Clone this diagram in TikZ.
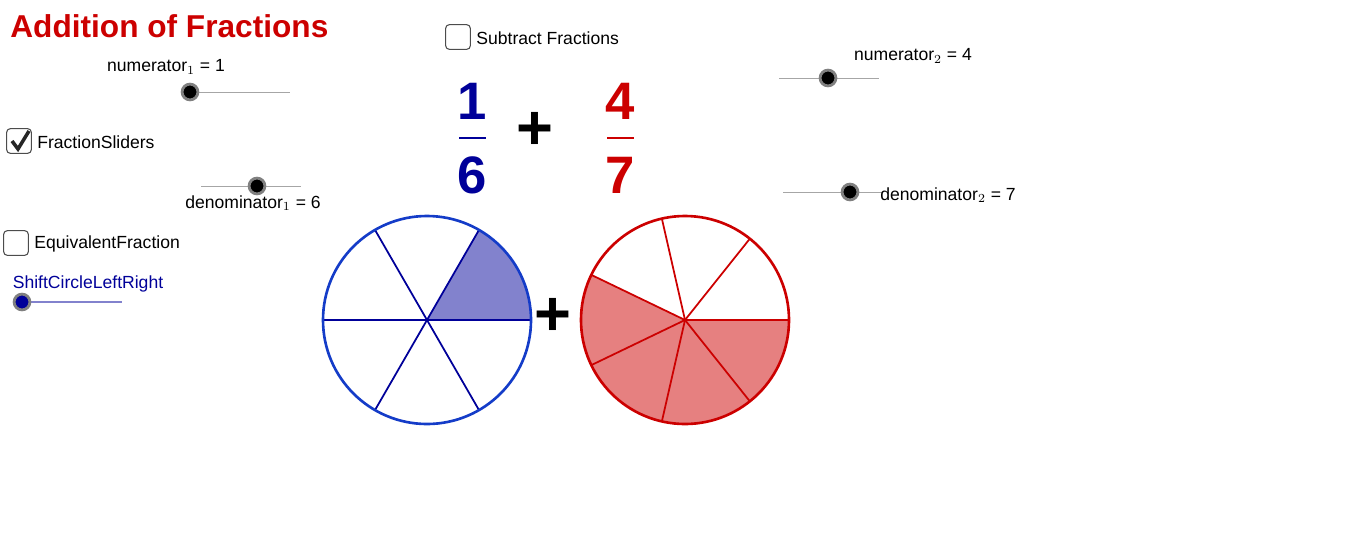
\documentclass[tikz,border=0pt]{standalone}
\usepackage{fontspec}
\setmainfont{Liberation Sans}
\definecolor{dblue}{RGB}{0,0,153}
\definecolor{cblue}{RGB}{20,60,200}
\definecolor{fblue}{RGB}{130,130,205}
\definecolor{dred}{RGB}{204,0,0}
\definecolor{fred}{RGB}{230,128,128}
\definecolor{tred}{RGB}{204,0,0}
\begin{document}
\begin{tikzpicture}[x=0.02cm,y=-0.02cm,
  lbl/.style={font=\fontsize{10}{12}\selectfont,inner sep=0pt},
  sline/.style={draw=gray!70,line width=0.4pt},
  knob/.style={circle,fill=black,draw=gray,line width=1.6pt,minimum size=9pt,inner sep=0pt},
  cbox/.style={draw=gray!60!black,rounded corners=2pt,minimum size=14pt,inner sep=0pt,line width=0.6pt},
  big/.style={font=\fontsize{30}{32}\selectfont\bfseries\rmfamily,inner sep=0pt}]
\useasboundingbox (0,0) rectangle (1368,538);
\node[anchor=west,text=tred,font=\fontsize{18}{20}\selectfont\bfseries,inner sep=0pt] (title) at (10,26) {Addition of Fractions};
% checkboxes
\node[cbox] (cs) at (458,37) {};
\node[lbl,anchor=west] (ts) at (476,38) {Subtract Fractions};
\node[cbox] (cf) at (19,141) {};
\draw[line width=2pt,gray!30!black] (12,141) -- (18,149) -- (29,131);
\node[lbl,anchor=west] (tf) at (37,142) {FractionSliders};
\node[cbox] (ce) at (16,243) {};
\node[lbl,anchor=west] (te) at (34,244) {EquivalentFraction};
% sliders
\draw[sline] (190,92) -- (290,92);
\node[knob] (k1) at (190,92) {};
\node[lbl] (n1) at (166,67) {numerator$_1$ = 1};
\draw[sline] (201,186) -- (301,186);
\node[knob] (k2) at (257,186) {};
\node[lbl] (d1) at (253,203) {denominator$_1$ = 6};
\draw[sline] (779,78) -- (879,78);
\node[knob] (k3) at (828,78) {};
\node[lbl] (n2) at (913,56) {numerator$_2$ = 4};
\draw[sline] (783,192) -- (883,192);
\node[knob] (k4) at (850,192) {};
\node[lbl] (d2) at (948,195) {denominator$_2$ = 7};
\node[lbl,text=dblue] (sh) at (88,284) {ShiftCircleLeftRight};
\draw[fblue,line width=1.2pt] (22,302) -- (122,302);
\node[knob,fill=dblue] (k5) at (22,302) {};
% fractions
\node[big,text=dblue] (a1) at (472,101) {1};
\node[big,text=dblue] (a6) at (472,175) {6};
\draw[dblue,line width=1.2pt] (459,138) -- (486,138);
\node[big,text=tred] (b4) at (620,101) {4};
\node[big,text=tred] (b7) at (620,175) {7};
\draw[tred,line width=1.2pt] (607,138) -- (634,138);
\node[font=\fontsize{36}{36}\selectfont\bfseries,inner sep=0pt] (p1) at (535,131) {+};
\node[font=\fontsize{36}{36}\selectfont\bfseries,inner sep=0pt] (p2) at (553,317) {+};
% blue circle
\begin{scope}[shift={(427,320)}]
\fill[fblue] (0,0) -- (0:104) arc[start angle=0,end angle=-60,radius=104] -- cycle;
\foreach \a in {0,60,...,300} \draw[dblue,line width=1pt] (0,0) -- (\a:104);
\draw[cblue,line width=1.5pt] (0,0) circle[radius=104];
\end{scope}
% red circle
\begin{scope}[shift={(685,320)}]
\fill[fred] (0,0) -- (0:104) arc[start angle=0,end angle=205.714,radius=104] -- cycle;
\foreach \k in {0,...,6} \draw[dred,line width=1pt] (0,0) -- ({-\k*360/7}:104);
\draw[dred,line width=1.5pt] (0,0) circle[radius=104];
\end{scope}
\end{tikzpicture}
\end{document}
